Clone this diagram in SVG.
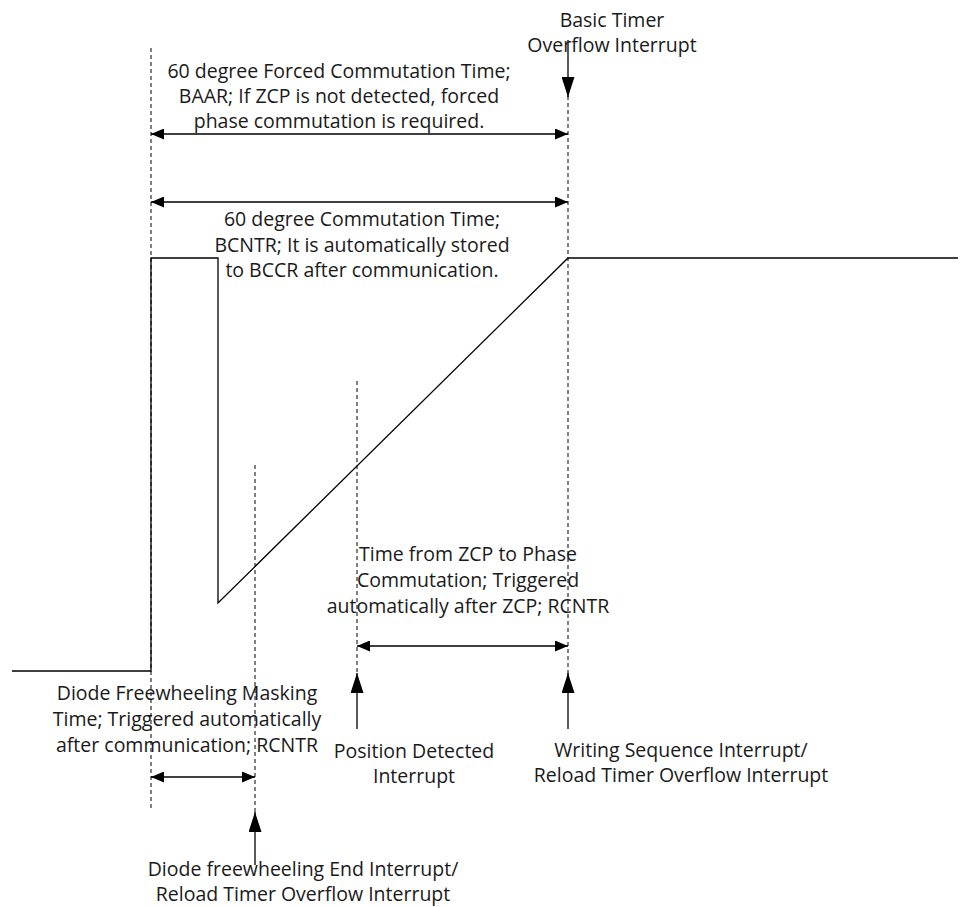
<svg xmlns="http://www.w3.org/2000/svg" width="974" height="907" viewBox="0 0 974 907">
<style>
.t{font-family:"Open Sans","Liberation Sans",Arial,sans-serif;font-size:19.5px;fill:#1a1a1a;text-anchor:middle}
.d{stroke:#000;stroke-width:1;stroke-dasharray:4 3;fill:none}
.l{stroke:#000;stroke-width:1.3;fill:none}
.w{stroke:#000;stroke-width:1.3;fill:none}
</style>
<defs>
<marker id="ah" viewBox="0 0 13 11" refX="13" refY="5.5" markerWidth="13" markerHeight="11" markerUnits="userSpaceOnUse" orient="auto-start-reverse">
<path d="M0,0 L13,5.5 L0,11 Z" fill="#000"/>
</marker>
<marker id="av" viewBox="0 0 20 13" refX="20" refY="6.5" markerWidth="20" markerHeight="13" markerUnits="userSpaceOnUse" orient="auto">
<path d="M0,0 L20,6.5 L0,13 Z" fill="#000"/>
</marker>
</defs>
<g id="waveform">
<polyline class="w" points="12,671 151,671 151,258 218,258 218,603 568,258 958,258"/>
</g>
<g id="guides">
<line class="d" x1="151" y1="48" x2="151" y2="811"/>
<line class="d" x1="568" y1="96" x2="568" y2="680"/>
<line class="d" x1="357" y1="381" x2="357" y2="680"/>
<line class="d" x1="255" y1="465" x2="255" y2="815"/>
</g>
<g id="connectors">
<line class="l" x1="151" y1="134" x2="568" y2="134" marker-start="url(#ah)" marker-end="url(#ah)"/>
<line class="l" x1="151" y1="202" x2="568" y2="202" marker-start="url(#ah)" marker-end="url(#ah)"/>
<line class="l" x1="357" y1="646" x2="568" y2="646" marker-start="url(#ah)" marker-end="url(#ah)"/>
<line class="l" x1="151" y1="777" x2="255" y2="777" marker-start="url(#ah)" marker-end="url(#ah)"/>
<line class="l" x1="568" y1="40" x2="568" y2="97" marker-end="url(#av)"/>
<line class="l" x1="357" y1="729" x2="357" y2="673" marker-end="url(#av)"/>
<line class="l" x1="568" y1="729" x2="568" y2="673" marker-end="url(#av)"/>
<line class="l" x1="255" y1="865" x2="255" y2="812" marker-end="url(#av)"/>
</g>
<g id="basic-timer">
<text class="t" x="612" y="27">Basic Timer</text>
<text class="t" x="612" y="52">Overflow Interrupt</text>
</g>
<g id="forced-commutation">
<text class="t" x="339" y="78">60 degree Forced Commutation Time;</text>
<text class="t" x="339" y="103">BAAR; If ZCP is not detected, forced</text>
<text class="t" x="339" y="128">phase commutation is required.</text>
</g>
<g id="commutation">
<text class="t" x="362" y="226">60 degree Commutation Time;</text>
<text class="t" x="362" y="252">BCNTR; It is automatically stored</text>
<text class="t" x="362" y="277">to BCCR after communication.</text>
</g>
<g id="zcp-time">
<text class="t" x="468" y="561">Time from ZCP to Phase</text>
<text class="t" x="468" y="587">Commutation; Triggered</text>
<text class="t" x="468" y="613">automatically after ZCP; RCNTR</text>
</g>
<g id="masking">
<text class="t" x="187" y="700">Diode Freewheeling Masking</text>
<text class="t" x="187" y="726">Time; Triggered automatically</text>
<text class="t" x="187" y="752">after communication; RCNTR</text>
</g>
<g id="position-detected">
<text class="t" x="414" y="758">Position Detected</text>
<text class="t" x="414" y="783">Interrupt</text>
</g>
<g id="writing-sequence">
<text class="t" x="681" y="757">Writing Sequence Interrupt/</text>
<text class="t" x="681" y="782">Reload Timer Overflow Interrupt</text>
</g>
<g id="diode-end">
<text class="t" x="303" y="876">Diode freewheeling End Interrupt/</text>
<text class="t" x="303" y="901">Reload Timer Overflow Interrupt</text>
</g>
</svg>
